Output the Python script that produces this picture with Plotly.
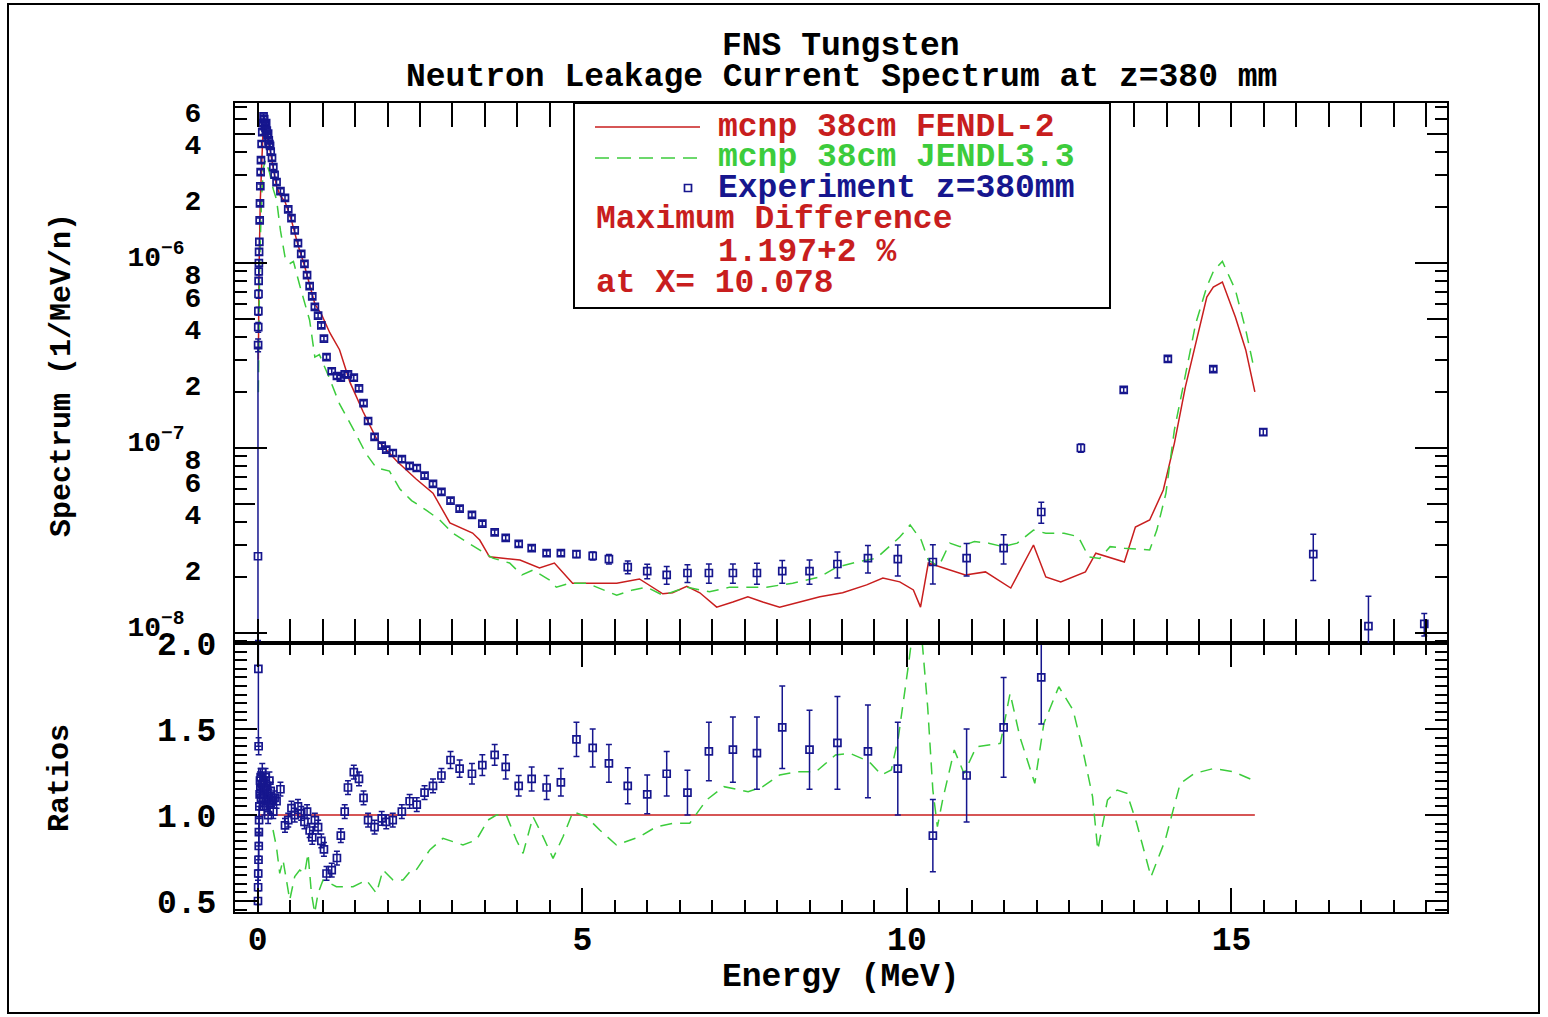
import numpy as np
import plotly.graph_objects as go

# ---------------- data ----------------
fendl_energy = [0.01, 0.02, 0.04, 0.06, 0.08, 0.10, 0.13, 0.16, 0.20, 0.25,
                0.29, 0.35, 0.42, 0.52, 0.62, 0.72, 0.80, 0.88, 0.98, 1.06,
                1.11, 1.26, 1.42, 1.62, 1.83, 2.14, 2.44, 2.70, 2.96, 3.31,
                3.42, 3.57, 3.73, 4.04, 4.34, 4.57, 4.85, 5.16, 5.53, 5.88,
                6.08, 6.24, 6.39, 6.61, 6.81, 7.07, 7.32, 7.55, 7.78, 8.04,
                8.35, 8.66, 9.01, 9.38, 9.63, 9.89, 10.10, 10.21, 10.33, 10.55,
                10.90, 11.21, 11.60, 11.95, 12.14, 12.37, 12.75, 12.91, 13.14, 13.35,
                13.52, 13.74, 13.95, 14.12, 14.29, 14.45, 14.62, 14.72, 14.86, 15.06,
                15.22, 15.36]
fendl_spectrum = [3.0e-7, 9.0e-7, 2.2e-6, 3.8e-6, 5.0e-6, 5.2e-6, 4.9e-6, 4.6e-6, 3.9e-6, 3.1e-6,
                  2.6e-6, 2.3e-6, 2.15e-6, 1.7e-6, 1.25e-6, 9.7e-7, 7.7e-7, 6.0e-7, 5.3e-7, 4.6e-7,
                  4.2e-7, 3.4e-7, 2.27e-7, 1.58e-7, 1.12e-7, 8.5e-8, 6.8e-8, 5.7e-8, 3.94e-8, 3.47e-8,
                  3.18e-8, 2.58e-8, 2.54e-8, 2.48e-8, 2.25e-8, 2.39e-8, 1.86e-8, 1.86e-8, 1.86e-8, 1.96e-8,
                  1.77e-8, 1.63e-8, 1.65e-8, 1.79e-8, 1.65e-8, 1.38e-8, 1.47e-8, 1.57e-8, 1.47e-8, 1.38e-8,
                  1.47e-8, 1.57e-8, 1.65e-8, 1.82e-8, 1.98e-8, 1.89e-8, 1.71e-8, 1.38e-8, 2.39e-8, 2.25e-8,
                  2.06e-8, 2.14e-8, 1.75e-8, 2.99e-8, 2.01e-8, 1.89e-8, 2.14e-8, 2.70e-8, 2.54e-8, 2.42e-8,
                  3.74e-8, 4.08e-8, 5.93e-8, 1.06e-7, 2.14e-7, 3.70e-7, 6.55e-7, 7.41e-7, 7.89e-7, 5.11e-7,
                  3.39e-7, 2.01e-7]

jendl_energy = [0.01, 0.03, 0.06, 0.09, 0.12, 0.18, 0.24, 0.29, 0.35, 0.42,
                0.49, 0.55, 0.65, 0.80, 0.88, 0.95, 1.11, 1.26, 1.47, 1.67,
                1.83, 2.03, 2.19, 2.37, 2.60, 2.80, 3.00, 3.37, 3.62, 3.88,
                4.07, 4.24, 4.50, 4.60, 4.81, 5.07, 5.32, 5.53, 5.78, 5.99,
                6.24, 6.61, 6.96, 7.27, 7.84, 8.24, 8.66, 8.92, 9.23, 9.53,
                9.89, 10.05, 10.22, 10.33, 10.49, 10.66, 10.82, 11.04, 11.26, 11.48,
                11.70, 11.95, 12.14, 12.42, 12.64, 12.80, 12.97, 13.13, 13.35, 13.74,
                13.85, 13.99, 14.12, 14.29, 14.45, 14.62, 14.73, 14.86, 15.06, 15.22,
                15.33]
jendl_spectrum = [2.0e-7, 1.0e-6, 2.3e-6, 3.3e-6, 3.6e-6, 3.1e-6, 2.5e-6, 2.2e-6, 1.5e-6, 1.08e-6,
                  9.9e-7, 1.02e-6, 7.5e-7, 4.9e-7, 3.1e-7, 3.2e-7, 2.36e-7, 1.73e-7, 1.27e-7, 9.3e-8,
                  7.8e-8, 7.5e-8, 6.0e-8, 5.2e-8, 4.6e-8, 4.1e-8, 3.47e-8, 2.88e-8, 2.54e-8, 2.39e-8,
                  2.06e-8, 2.19e-8, 1.93e-8, 1.77e-8, 1.86e-8, 1.86e-8, 1.71e-8, 1.60e-8, 1.71e-8, 1.77e-8,
                  1.60e-8, 1.77e-8, 1.67e-8, 1.77e-8, 1.77e-8, 1.86e-8, 2.01e-8, 2.27e-8, 2.42e-8, 2.54e-8,
                  3.3e-8, 3.84e-8, 3.18e-8, 2.48e-8, 2.29e-8, 3.06e-8, 2.93e-8, 3.12e-8, 3.06e-8, 2.93e-8,
                  3.06e-8, 3.6e-8, 3.46e-8, 3.46e-8, 3.32e-8, 2.58e-8, 2.53e-8, 2.93e-8, 2.87e-8, 2.81e-8,
                  3.6e-8, 5.69e-8, 1.25e-7, 2.54e-7, 4.72e-7, 7.44e-7, 9.16e-7, 1.02e-6, 7.15e-7, 4.35e-7,
                  2.87e-7]

exp_energy = [0.004, 0.006, 0.008, 0.010, 0.012, 0.014, 0.016, 0.018, 0.021, 0.025,
              0.03, 0.035, 0.04, 0.045, 0.05, 0.06, 0.07, 0.08, 0.09, 0.10,
              0.11, 0.12, 0.13, 0.14, 0.15, 0.16, 0.17, 0.18, 0.19, 0.20,
              0.22, 0.24, 0.26,
              0.29, 0.35, 0.42, 0.47, 0.52, 0.57, 0.62, 0.67, 0.72, 0.76,
              0.80, 0.84, 0.88, 0.93, 0.98, 1.02,
              1.06, 1.14, 1.22, 1.28, 1.34, 1.39, 1.48, 1.56, 1.63, 1.70,
              1.80, 1.91, 1.98, 2.08, 2.22, 2.34, 2.45, 2.57, 2.70, 2.83,
              2.97, 3.11, 3.30, 3.46, 3.65, 3.82, 4.02, 4.22, 4.45, 4.67,
              4.91, 5.16, 5.41, 5.70, 6.00, 6.30, 6.62, 6.95, 7.32, 7.69,
              8.08, 8.50, 8.93, 9.40, 9.86, 10.40, 10.92, 11.49, 12.07, 12.68,
              13.34, 14.02, 14.72, 15.49, 16.26, 17.11, 17.97]
exp_spectrum = [2.6e-8, 3.6e-7, 4.5e-7, 5.5e-7, 6.8e-7, 8.0e-7, 9.0e-7, 1.0e-6, 1.15e-6, 1.3e-6,
                1.7e-6, 2.1e-6, 2.6e-6, 3.1e-6, 3.6e-6, 4.4e-6, 5.1e-6, 5.7e-6, 6.2e-6, 6.0e-6,
                5.6e-6, 5.4e-6, 5.7e-6, 5.2e-6, 4.9e-6, 5.0e-6, 4.6e-6, 4.4e-6, 4.3e-6, 4.0e-6,
                3.7e-6, 3.3e-6, 3.0e-6,
                2.74e-6, 2.45e-6, 2.25e-6, 1.95e-6, 1.75e-6, 1.5e-6, 1.28e-6, 1.12e-6, 9.9e-7, 8.6e-7,
                7.5e-7, 6.6e-7, 5.8e-7, 5.2e-7, 4.6e-7, 3.9e-7,
                3.1e-7, 2.6e-7, 2.45e-7, 2.4e-7, 2.5e-7, 2.5e-7, 2.4e-7, 2.1e-7, 1.75e-7, 1.4e-7,
                1.15e-7, 1.03e-7, 9.8e-8, 9.4e-8, 8.7e-8, 8.0e-8, 7.8e-8, 7.1e-8, 6.4e-8, 5.8e-8,
                5.2e-8, 4.7e-8, 4.35e-8, 3.9e-8, 3.5e-8, 3.27e-8, 3.03e-8, 2.88e-8, 2.70e-8, 2.70e-8,
                2.67e-8, 2.61e-8, 2.51e-8, 2.27e-8, 2.16e-8, 2.06e-8, 2.11e-8, 2.11e-8, 2.11e-8, 2.11e-8,
                2.16e-8, 2.16e-8, 2.36e-8, 2.54e-8, 2.51e-8, 2.42e-8, 2.54e-8, 2.88e-8, 4.51e-8, 1.0e-7,
                2.06e-7, 3.03e-7, 2.67e-7, 1.22e-7, 2.67e-8, 1.09e-8, 1.12e-8]
exp_err_plus_pct = [1250, 8, 6, 5, 5, 4, 4, 4, 4, 4,
                    3, 3, 3, 3, 3, 3, 3, 3, 3, 3,
                    3, 3, 3, 3, 3, 3, 3, 3, 3, 3,
                    3, 3, 3,
                    3, 3, 3, 3, 3, 3, 3, 3, 3, 3,
                    3, 3, 3, 3, 3, 3,
                    3, 3, 3, 3, 3, 3, 3, 3, 3, 3,
                    3, 3, 3, 3, 3, 3, 3, 3, 3, 3,
                    3, 3, 3, 3, 3, 3, 3, 3, 3, 3,
                    4, 5, 6, 8, 9, 11, 11, 12, 12, 13,
                    14, 15, 16, 17, 19, 24, 20, 18, 13, 5,
                    3, 3, 3, 4, 28, 45, 14]
exp_err_minus_pct = [65, 8, 6, 5, 5, 4, 4, 4, 4, 4,
                     3, 3, 3, 3, 3, 3, 3, 3, 3, 3,
                     3, 3, 3, 3, 3, 3, 3, 3, 3, 3,
                     3, 3, 3,
                     3, 3, 3, 3, 3, 3, 3, 3, 3, 3,
                     3, 3, 3, 3, 3, 3,
                     3, 3, 3, 3, 3, 3, 3, 3, 3, 3,
                     3, 3, 3, 3, 3, 3, 3, 3, 3, 3,
                     3, 3, 3, 3, 3, 3, 3, 3, 3, 3,
                     4, 5, 6, 8, 9, 11, 11, 12, 12, 13,
                     14, 15, 16, 17, 19, 24, 20, 18, 13, 5,
                     3, 3, 3, 4, 28, 45, 14]
exp_ratio = [0.50, 0.58, 0.66, 1.85, 0.74, 1.40, 0.82, 0.90, 0.97, 1.05,
             1.12, 1.20, 1.15, 1.22, 1.10, 1.18, 1.25, 1.12, 1.20, 1.05,
             1.15, 1.22, 1.08, 1.17, 1.12, 1.00, 1.10, 1.20, 1.06, 1.14,
             1.09, 1.02, 1.10,
             1.08, 1.15, 0.94, 0.97, 1.04, 1.00, 1.05, 1.01, 0.96, 1.02,
             0.91, 0.87, 0.97, 0.93, 0.85, 0.80,
             0.66, 0.68, 0.75, 0.88, 1.02, 1.16, 1.25, 1.21, 1.10, 0.97,
             0.93, 0.98, 0.96, 0.97, 1.02, 1.08, 1.06, 1.13, 1.17, 1.23,
             1.32, 1.27, 1.24, 1.29, 1.35, 1.28, 1.17, 1.21, 1.16, 1.19,
             1.44, 1.39, 1.30, 1.17, 1.12, 1.24, 1.13, 1.37, 1.38, 1.36,
             1.51, 1.38, 1.42, 1.37, 1.27, 0.88, 1.23, 1.51, 1.80, None,
             None, None, None, None, None, None, None]
exp_ratio_err = [0.12, 0.10, 0.10, 0.45, 0.10, 0.05, 0.08, 0.08, 0.08, 0.06,
                 0.05, 0.05, 0.05, 0.05, 0.05, 0.05, 0.05, 0.05, 0.05, 0.05,
                 0.05, 0.05, 0.05, 0.05, 0.05, 0.05, 0.05, 0.05, 0.05, 0.05,
                 0.04, 0.04, 0.04,
                 0.04, 0.04, 0.04, 0.04, 0.04, 0.04, 0.04, 0.04, 0.04, 0.04,
                 0.04, 0.04, 0.04, 0.04, 0.04, 0.04,
                 0.04, 0.04, 0.04, 0.04, 0.04, 0.04, 0.04, 0.04, 0.04, 0.04,
                 0.04, 0.04, 0.04, 0.04, 0.04, 0.04, 0.04, 0.04, 0.04, 0.04,
                 0.05, 0.05, 0.06, 0.06, 0.06, 0.07, 0.06, 0.07, 0.07, 0.08,
                 0.10, 0.11, 0.11, 0.105, 0.113, 0.13, 0.13, 0.17, 0.19, 0.21,
                 0.24, 0.23, 0.27, 0.27, 0.27, 0.21, 0.27, 0.29, 0.27, None,
                 None, None, None, None, None, None, None]

jendl_ratio_energy = [0.236, 0.288, 0.339, 0.390, 0.442, 0.493, 0.570, 0.647, 0.724, 0.775,
                      0.827, 0.878, 0.929, 1.006, 1.109, 1.212, 1.469, 1.674, 1.828, 1.93,
                      2.084, 2.238, 2.367, 2.44, 2.65, 2.854, 3.162, 3.368, 3.548, 3.676,
                      3.83, 3.984, 4.087, 4.241, 4.395, 4.549, 4.703, 4.857, 5.063, 5.268,
                      5.525, 5.884, 6.141, 6.398, 6.655, 6.912, 7.181, 7.555, 7.78, 8.04,
                      8.30, 8.60, 8.90, 9.12, 9.42, 9.61, 9.76, 9.87, 10.02, 10.17,
                      10.32, 10.40, 10.47, 10.55, 10.73, 10.88, 11.07, 11.44, 11.59, 11.74,
                      11.97, 12.11, 12.34, 12.56, 12.71, 12.86, 12.94, 13.09, 13.24, 13.39,
                      13.54, 13.76, 13.98, 14.21, 14.43, 14.73, 15.03, 15.33]
jendl_ratio = [0.913, 0.816, 0.661, 0.738, 0.622, 0.506, 0.642, 0.680, 0.661, 0.777,
               0.545, 0.43, 0.545, 0.622, 0.603, 0.583, 0.583, 0.622, 0.545, 0.680,
               0.622, 0.622, 0.680, 0.68, 0.797, 0.864, 0.826, 0.855, 0.971, 1.0,
               1.0, 0.855, 0.777, 0.99, 0.874, 0.748, 0.874, 1.019, 0.99, 0.913,
               0.826, 0.874, 0.932, 0.952, 0.952, 1.087, 1.165, 1.135, 1.165, 1.233,
               1.252, 1.252, 1.349, 1.359, 1.310, 1.233, 1.262, 1.455, 1.862, 2.3,
               1.63, 1.145, 0.932, 1.087, 1.378, 1.242, 1.397, 1.417, 1.708, 1.455,
               1.184, 1.533, 1.746, 1.610, 1.378, 1.107, 0.797, 1.087, 1.145, 1.126,
               0.952, 0.641, 0.855, 1.184, 1.242, 1.271, 1.252, 1.203]

x_ticks = [0, 5, 10, 15]
x_tick_labels = ["0", "5", "10", "15"]
spec_ticks = [1e-8, 2e-8, 4e-8, 6e-8, 8e-8, 1e-7, 2e-7, 4e-7, 6e-7, 8e-7, 1e-6, 2e-6, 4e-6, 6e-6]
spec_tick_labels = ["10<sup>−8</sup>&nbsp;", "2", "4", "6", "8",
                    "10<sup>−7</sup>&nbsp;", "2", "4", "6", "8",
                    "10<sup>−6</sup>&nbsp;", "2", "4", "6"]
spec_minor_ticks = [9e-9, 3e-8, 5e-8, 7e-8, 9e-8, 3e-7, 5e-7, 7e-7, 9e-7, 3e-6, 5e-6, 7e-6]
spec_decades = [1e-8, 1e-7, 1e-6]
spec_halves = [5e-8, 5e-7, 5e-6]
ratio_ticks = [0.5, 1.0, 1.5, 2.0]
ratio_tick_labels = ["0.5", "1.0", "1.5", "2.0"]

# ---------------- styling ----------------
FONT = "Liberation Mono"
FS = 33
WEIGHT = "bold"
RED = "#c81e1e"
GREEN = "#3ccc3c"
NAVY = "#16168e"

W, H = 1548, 1017
L, R, T, B = 235, 1447, 103, 912
PW, PH = R - L, B - T


def px(x):
    return (x - L) / PW


def py(y):
    return (B - y) / PH


split = py(643)
XR = [-0.35, 18.32]
YR_LOG = [-8.054, -5.135]

fig = go.Figure()

e = np.array(exp_energy)
v = np.array(exp_spectrum)
err_p = v * np.array(exp_err_plus_pct) / 100.0
err_m = v * np.array(exp_err_minus_pct) / 100.0

# top panel
fig.add_trace(go.Scatter(x=fendl_energy, y=fendl_spectrum, mode="lines",
                         line=dict(color=RED, width=1.5), xaxis="x2", yaxis="y2"))
fig.add_trace(go.Scatter(x=jendl_energy, y=jendl_spectrum, mode="lines",
                         line=dict(color=GREEN, width=1.5, dash="12px,8px"), xaxis="x2", yaxis="y2"))
fig.add_trace(go.Scatter(x=e, y=v, mode="markers",
                         marker=dict(symbol="square-open", size=7, color=NAVY, line=dict(width=1.7, color=NAVY)),
                         error_y=dict(type="data", array=err_p, arrayminus=err_m, color=NAVY, thickness=1.5, width=3),
                         xaxis="x2", yaxis="y2"))
fig.add_trace(go.Scatter(x=[None], y=[None], xaxis="x2", yaxis="y3", showlegend=False, hoverinfo="skip"))

# ratio panel
fr = np.array(fendl_spectrum) / np.array(fendl_spectrum)
fig.add_trace(go.Scatter(x=fendl_energy, y=fr, mode="lines",
                         line=dict(color=RED, width=1.5), xaxis="x", yaxis="y"))
fig.add_trace(go.Scatter(x=jendl_ratio_energy, y=jendl_ratio, mode="lines",
                         line=dict(color=GREEN, width=1.5, dash="12px,8px"), xaxis="x", yaxis="y"))
re = [en for en, r in zip(exp_energy, exp_ratio) if r is not None]
rv = [r for r in exp_ratio if r is not None]
rerr = [er for r, er in zip(exp_ratio, exp_ratio_err) if r is not None]
fig.add_trace(go.Scatter(x=re, y=rv, mode="markers",
                         marker=dict(symbol="square-open", size=7, color=NAVY, line=dict(width=1.7, color=NAVY)),
                         error_y=dict(type="data", array=rerr, color=NAVY, thickness=1.5, width=3),
                         xaxis="x", yaxis="y"))

tickfont = dict(family=FONT, size=FS, color="black", weight=WEIGHT)
common = dict(showline=True, linecolor="black", linewidth=2, mirror="allticks", ticks="inside",
              tickcolor="black", tickwidth=1.5, showgrid=False, zeroline=False)
xminor = dict(tickmode="linear", tick0=0, dtick=0.5, ticklen=12, ticks="inside",
              tickcolor="black", tickwidth=1.5, showgrid=False)

fig.update_layout(
    width=W, height=H,
    margin=dict(l=L, r=W - R, t=T, b=H - B, pad=0),
    paper_bgcolor="white", plot_bgcolor="white",
    showlegend=False,
    font=dict(family=FONT, size=FS, color="black"),
    xaxis=dict(**common, domain=[0, 1], anchor="y", range=XR, tickmode="array",
               tickvals=x_ticks, ticktext=x_tick_labels, ticklen=24, minor=xminor,
               tickfont=tickfont, ticklabelstandoff=-4),
    xaxis2=dict(**common, domain=[0, 1], anchor="y2", range=XR, matches="x", tickmode="array",
                tickvals=x_ticks, ticktext=x_tick_labels, ticklen=24, minor=xminor,
                showticklabels=False),
    yaxis=dict(**common, domain=[0, split], anchor="x", range=[0.436, 2.0005], tickmode="array",
               tickvals=ratio_ticks, ticktext=ratio_tick_labels, ticklen=22,
               minor=dict(tickmode="linear", tick0=0, dtick=0.05, ticklen=12, ticks="inside",
                          tickcolor="black", tickwidth=1.5, showgrid=False),
               tickfont=tickfont, ticklabelstandoff=10),
    yaxis2=dict(**common, type="log", domain=[split, 1], anchor="x2", range=YR_LOG, tickmode="array",
                tickvals=spec_ticks, ticktext=spec_tick_labels, ticklen=12,
                minor=dict(tickmode="array", tickvals=spec_minor_ticks, ticklen=12, ticks="inside",
                           tickcolor="black", tickwidth=1.5, showgrid=False),
                tickfont=dict(family=FONT, size=28, color="black", weight=WEIGHT),
                ticklabelstandoff=26, ticklabelshift=-7),
    yaxis3=dict(type="log", overlaying="y2", anchor="x2", range=YR_LOG, tickmode="array",
                tickvals=spec_decades, ticks="inside", ticklen=32, tickwidth=1.5, tickcolor="black",
                mirror="allticks", showline=False, showgrid=False, zeroline=False, showticklabels=False,
                minor=dict(tickmode="array", tickvals=spec_halves, ticklen=20, ticks="inside",
                           tickcolor="black", tickwidth=1.5, showgrid=False)),
)

shapes = []
# outer frame
shapes.append(dict(type="rect", xref="paper", yref="paper", x0=px(8), x1=px(1539), y0=py(1013), y1=py(4),
                   line=dict(color="black", width=2), fillcolor="rgba(0,0,0,0)", layer="above"))
# legend box
shapes.append(dict(type="rect", xref="paper", yref="paper", x0=px(574), x1=px(1110), y0=py(308), y1=py(103),
                   line=dict(color="black", width=2), fillcolor="white", layer="above"))
shapes.append(dict(type="line", xref="paper", yref="paper", x0=px(595), x1=px(700), y0=py(127), y1=py(127),
                   line=dict(color=RED, width=1.5), layer="above"))
shapes.append(dict(type="line", xref="paper", yref="paper", x0=px(595), x1=px(700), y0=py(158), y1=py(158),
                   line=dict(color=GREEN, width=1.5, dash="14px,8px"), layer="above"))
shapes.append(dict(type="rect", xref="paper", yref="paper", xsizemode="pixel", ysizemode="pixel",
                   xanchor=px(688), yanchor=py(188), x0=-3.5, x1=3.5, y0=-3.5, y1=3.5,
                   line=dict(color=NAVY, width=1.7), fillcolor="white", layer="above"))

ann = []


def text(x, y, s, color="black", xanchor="left", angle=0, size=FS):
    ann.append(dict(xref="paper", yref="paper", x=x, y=y, text=s, showarrow=False,
                    xanchor=xanchor, yanchor="middle", textangle=angle,
                    font=dict(family=FONT, size=size, color=color, weight=WEIGHT)))


text(px(841), py(47), "FNS Tungsten", xanchor="center")
text(px(841), py(77), "Neutron Leakage Current Spectrum at z=380 mm", xanchor="center")
text(px(841), py(977), "Energy (MeV)", xanchor="center")
text(px(62), py(375), "Spectrum (1/MeV/n)", xanchor="center", angle=-90, size=30)
text(px(60), py(778), "Ratios", xanchor="center", angle=-90, size=30)

text(px(716), py(127), "mcnp 38cm FENDL-2", color=RED)
text(px(716), py(158), "mcnp 38cm JENDL3.3", color=GREEN)
text(px(716), py(188), "Experiment z=380mm", color=NAVY)
text(px(594), py(220), "Maximum Difference", color=RED)
text(px(716), py(252), "1.197+2 %", color=RED)
text(px(594), py(283), "at X= 10.078", color=RED)

fig.update_layout(shapes=shapes, annotations=ann)

fig.write_html("out.html", config={"displayModeBar": False})
